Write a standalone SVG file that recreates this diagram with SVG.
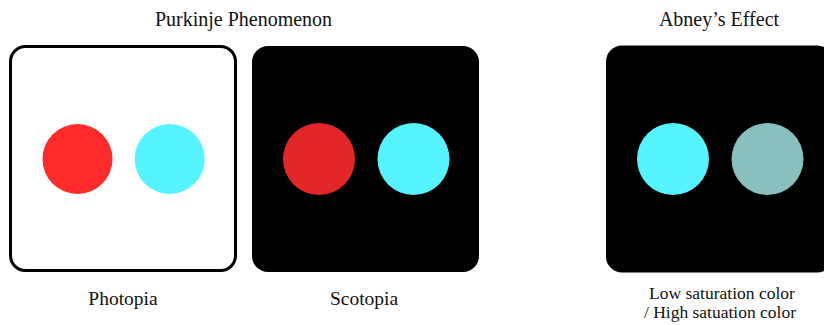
<svg xmlns="http://www.w3.org/2000/svg" width="824" height="325" viewBox="0 0 824 325">
<style>
text{font-family:"Liberation Serif","Times New Roman",serif;fill:#111}
.t{font-size:20px}
.l{font-size:19.5px}
.s{font-size:17.5px}
.dark{fill:#000}
.cy{fill:#55F4FF}
</style>
<rect width="824" height="325" fill="#fff"/>
<g id="title-purkinje"><text class="t" x="243.5" y="25.5" text-anchor="middle">Purkinje Phenomenon</text></g>
<g id="title-abney"><text class="t" x="719" y="25.5" text-anchor="middle">Abney’s Effect</text></g>
<g id="photopia">
<rect x="10.5" y="46.5" width="225" height="224" rx="15" fill="#fff" stroke="#000" stroke-width="3"/>
<circle cx="77.5" cy="159" r="35" fill="#FF2A2A"/>
<circle class="cy" cx="169.7" cy="159" r="35"/>
<text class="l" x="123" y="305" text-anchor="middle">Photopia</text>
</g>
<g id="scotopia">
<rect class="dark" x="252" y="46" width="227" height="226" rx="16"/>
<circle cx="319" cy="159" r="36" fill="#E32628"/>
<circle class="cy" cx="413.5" cy="159" r="36"/>
<text class="l" x="364" y="305" text-anchor="middle">Scotopia</text>
</g>
<g id="abney">
<rect class="dark" x="606" y="45.5" width="227" height="227" rx="16"/>
<circle class="cy" cx="673" cy="159" r="36"/>
<circle cx="767.5" cy="159" r="36" fill="#88C0C0"/>
<text class="s" x="722" y="299" text-anchor="middle">Low saturation color</text>
<text class="s" x="720" y="317.5" text-anchor="middle">/ High satuation color</text>
</g>
<g id="connectors"/>
</svg>
